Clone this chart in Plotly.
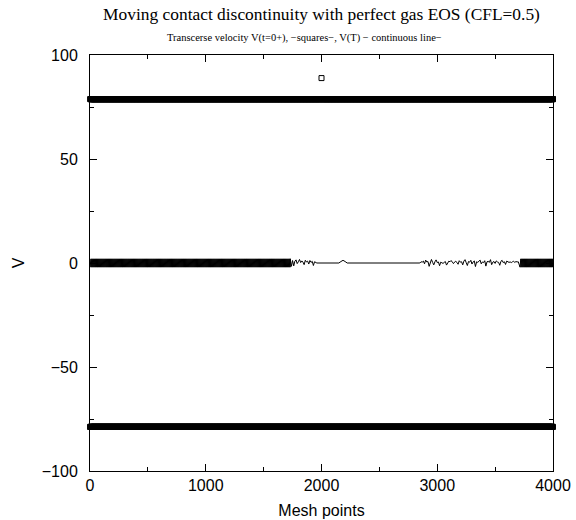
import plotly.graph_objects as go

# ---------------- data ----------------
mesh_points = list(range(1, 4001))

# V(t=0+) : alternating +/- level on the mesh (checkerboard), one higher point at 2000
v0_level = 78.8
v0_peak_index = 2000
v0_peak_value = 88.9

# V(T) : dense high-frequency oscillation bands (start, end, amplitude)
vt_dense_left = (1, 1730, 2.0)
vt_dense_right = (3715, 4000, 2.0)

# transition region after the left band (every 10 mesh points from 1730)
vt_trans_start = 1730
vt_trans_vals = [1.8, -1.6, 1.2, -1.4, 0.9, 1.5, -0.3, 0.6, 1.7, 0.2, 1.0, 0.4,
                 -0.8, 1.3, 0.5, 0.9, -0.5, 1.2, 0.3, 0.8, -1.2, 0.6, 0.2, 0.0]

# smooth central region with a small bump
vt_mid_x = [1970, 2150, 2168, 2186, 2204, 2222, 2850]
vt_mid_y = [0.0, 0.0, 0.7, 1.3, 0.7, 0.0, 0.0]

# noisy region before the right band (every 10 mesh points from 2860)
vt_noisy_start = 2860
vt_noisy_vals = [0.6, 0.4, 0.9, -0.4, 1.4, 0.5, 0.7, -1.6, 0.8, 1.7, 0.3, -0.9,
                 0.6, 1.5, 0.2, 0.5, -1.3, 0.4, 0.1, -0.2, 0.3, 0.7, -1.0, 0.2,
                 0.9, 0.6, 1.2, 0.4, -0.3, 0.5, 0.8, 0.3, -0.6, 1.1, 0.4, 0.6,
                 -0.9, 0.9, 1.6, 0.2, -1.2, 0.7, 0.4, 1.3, -0.5, 0.5, 1.0, -1.7,
                 0.6, 0.3, 0.9, 1.4, -0.4, 0.5, 0.2, 1.1, -1.5, 0.6, 0.8, 0.3,
                 1.6, -0.8, 0.4, 0.7, -0.2, 1.0, 0.5, 0.3, -1.1, 0.8, 1.3, 0.2,
                 0.6, -0.7, 0.9, 0.4, 0.3, 0.5, 0.2, 0.6, 0.8, 0.3, 0.7, 0.5, 0.6]

x_ticks = [0, 1000, 2000, 3000, 4000]
y_ticks = [-100, -50, 0, 50, 100]

# ---------------- build series ----------------
v0 = [v0_level if i % 2 == 0 else -v0_level for i in mesh_points]
v0[v0_peak_index - 1] = v0_peak_value


def band(seg):
    s, e, a = seg
    xs = list(range(s, e + 1))
    ys = [a if i % 2 == 0 else -a for i in xs]
    return xs, ys


vt_x, vt_y = [], []
bx, by = band(vt_dense_left)
vt_x += bx; vt_y += by
vt_x += [vt_trans_start + 10 * k for k in range(len(vt_trans_vals))]
vt_y += vt_trans_vals
vt_x += vt_mid_x; vt_y += vt_mid_y
vt_x += [vt_noisy_start + 10 * k for k in range(len(vt_noisy_vals))]
vt_y += vt_noisy_vals
bx, by = band(vt_dense_right)
vt_x += bx; vt_y += by

# ---------------- figure ----------------
fig = go.Figure()
fig.add_trace(go.Scatter(
    x=mesh_points, y=v0, mode="markers", cliponaxis=False,
    marker=dict(symbol="square-open", size=5, color="black", line=dict(width=1, color="black")),
    showlegend=False, hoverinfo="skip"))
fig.add_trace(go.Scatter(
    x=vt_x, y=vt_y, mode="lines", line=dict(color="black", width=1),
    showlegend=False, hoverinfo="skip"))

sans = "Liberation Sans, Arial, sans-serif"
serif = "Liberation Serif, Times New Roman, serif"

fig.update_layout(
    width=576, height=520, autosize=False,
    margin=dict(l=90, r=23, t=55, b=49, autoexpand=False),
    paper_bgcolor="white", plot_bgcolor="white",
    font=dict(family=sans, size=16, color="black"),
    title=dict(text="Moving contact discontinuity with perfect gas EOS (CFL=0.5)",
               font=dict(family=serif, size=17.4, color="black"),
               x=0.5, xanchor="center", xref="paper",
               y=1 - 14 / 520, yref="container", yanchor="middle"),
    annotations=[dict(text="Transcerse velocity V(t=0+), \u2212squares\u2212, V(T) \u2212 continuous line\u2212",
                      x=(304 - 90) / 463, xref="paper", y=(471 - 38) / 416, yref="paper",
                      xanchor="center", yanchor="middle", showarrow=False,
                      font=dict(family=serif, size=10.5, color="black"))],
)
fig.update_xaxes(
    range=[0, 4000], tickvals=x_ticks, ticktext=[str(v) for v in x_ticks],
    ticks="inside", ticklen=7, tickwidth=1, tickcolor="black",
    minor=dict(dtick=500, tick0=0, ticks="inside", ticklen=4, tickcolor="black"),
    showline=True, linecolor="black", linewidth=1, mirror="ticks",
    showgrid=False, zeroline=False, automargin=False,
    title=dict(text="Mesh points", font=dict(size=16), standoff=11),
    tickfont=dict(size=16))
fig.update_yaxes(
    range=[-100, 100], tickvals=y_ticks,
    ticktext=[str(v).replace("-", "\u2212") for v in y_ticks],
    ticks="inside", ticklen=7, tickwidth=1, tickcolor="black",
    minor=dict(dtick=25, tick0=0, ticks="inside", ticklen=4, tickcolor="black"),
    showline=True, linecolor="black", linewidth=1, mirror="ticks",
    showgrid=False, zeroline=False, ticklabelstandoff=8, automargin=False,
    title=dict(text="V", font=dict(size=16), standoff=13),
    tickfont=dict(size=16))

fig.write_html("out.html", config={"displayModeBar": False},
               post_script="document.body.style.margin='0';document.body.style.overflow='hidden';")
